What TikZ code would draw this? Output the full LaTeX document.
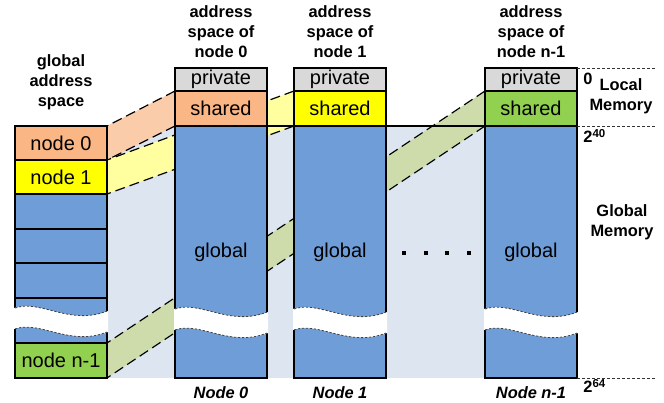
\documentclass[tikz,border=0pt]{standalone}
\usepackage{fontspec}
\setmainfont{Liberation Sans}
\usepackage{tikz}
\usetikzlibrary{positioning, calc, backgrounds}
\definecolor{privgray}{RGB}{217,217,217}
\definecolor{node0col}{RGB}{250,182,132}
\definecolor{node1col}{RGB}{255,255,0}
\definecolor{nodencol}{RGB}{146,208,80}
\definecolor{band0}{RGB}{250,204,170}
\definecolor{band1}{RGB}{255,255,160}
\definecolor{bandn}{RGB}{205,220,170}
\definecolor{globblue}{RGB}{111,157,216}
\definecolor{bgblue}{RGB}{220,229,240}

% white torn gap across a memory column
\newcommand{\wavegap}[3]{%
  \fill[white] ({#1-1},#3) .. controls ({#1+25},{#3-9}) and ({#1+55},{#3+18}) .. ({#2+1},{#3+3})
    -- ({#2+1},{#3+24}) .. controls ({#1+55},{#3+39}) and ({#1+25},{#3+12}) .. ({#1-1},{#3+21}) -- cycle;
  \draw[wavedge] (#1,#3) .. controls ({#1+25},{#3-9}) and ({#1+55},{#3+18}) .. (#2,{#3+3});
  \draw[wavedge] (#1,{#3+21}) .. controls ({#1+25},{#3+12}) and ({#1+55},{#3+39}) .. (#2,{#3+24});
}

\begin{document}
\begin{tikzpicture}[x=0.5pt, y=-0.5pt,
    cell/.style={draw=black, line width=0.9pt, minimum width=46pt, inner sep=0pt, outer sep=0pt,
      font=\fontsize{10}{12}\selectfont},
    hdr/.style={align=center, inner sep=1pt, font=\fontsize{8.2}{10}\selectfont\bfseries},
    foot/.style={inner sep=1pt, font=\fontsize{8.2}{10}\selectfont\bfseries\itshape},
    band/.style={dash pattern=on 5pt off 2.5pt, line width=0.6pt},
    wavedge/.style={black!75, dash pattern=on 1.2pt off 0.8pt, line width=0.4pt},
    refline/.style={black!80, dash pattern=on 1.5pt off 1pt, line width=0.4pt}]
    \useasboundingbox (0,0) rectangle (664,402);

    % global address space
    \node[hdr] (ghdr) at (61,82) {global\\address\\space};
    \node[cell, fill=node0col, minimum height=17pt] (g0) at (61,143) {node 0};
    \node[cell, fill=node1col, minimum height=17pt] (g1) at (61,177) {node 1};
    \node[cell, fill=globblue, minimum height=17.5pt] (b1) at (61,211.5) {};
    \node[cell, fill=globblue, minimum height=17pt] (b2) at (61,246) {};
    \node[cell, fill=globblue, minimum height=17.5pt] (b3) at (61,280.5) {};
    \node[cell, fill=globblue, minimum height=22.5pt] (b4) at (61,320.5) {};
    \node[cell, fill=nodencol, minimum height=17.5pt] (gn) at (61,360.5) {node n-1};
    \wavegap{15}{107}{308}

    % address spaces of the nodes
    \foreach \c/\x/\fillc/\num in {0/221/node0col/0, 1/340/node1col/1, n/531/nodencol/n-1} {
        \node[hdr] (h\c) at (\x,32) {address\\space of\\node \num};
        \node[cell, fill=privgray, minimum height=11.5pt] (p\c) at (\x,79.5) {private};
        \node[cell, fill=\fillc, minimum height=17.5pt] (s\c) at (\x,108.5) {shared};
        \node[cell, fill=globblue, minimum height=126pt] (m\c) at (\x,252) {global};
        \node[foot] (f\c) at (\x,393) {Node \num};
        \wavegap{\x-46}{\x+46}{309}
    }

    % mappings
    \begin{scope}[on background layer]
        \fill[bgblue] (g0.north east) rectangle (mn.south west);
        \foreach \a/\b/\bc in {g0/s0/band0, g1/s1/band1, gn/sn/bandn} {
            \fill[\bc] (\a.north east) -- (\b.north west) -- (\b.south west) -- (\a.south east) -- cycle;
            \draw[band] (\b.north west) -- (\a.north east);
            \draw[band] (\b.south west) -- (\a.south east);
        }
        \draw[line width=0.7pt] (s0.south east) -- (sn.south west);
    \end{scope}

    % dots between columns
    \foreach \d in {404,426,447,469}
        \fill (\d-2,251) rectangle ++(4,4);

    % memory ranges
    \draw[refline] (pn.north east) -- ++(78,0);
    \draw[refline] (sn.south east) -- ++(78,0);
    \draw[refline] (mn.south east) -- ++(78,0);
    \node[hdr, anchor=west] (lz) at (581,79) {0};
    \node[hdr] (lloc) at (621,96) {Local\\Memory};
    \node[hdr, anchor=west] (l40) at (581,136) {2\textsuperscript{40}};
    \node[hdr] (lglob) at (622,222) {Global\\Memory};
    \node[hdr, anchor=west] (l64) at (581,386) {2\textsuperscript{64}};
\end{tikzpicture}
\end{document}
